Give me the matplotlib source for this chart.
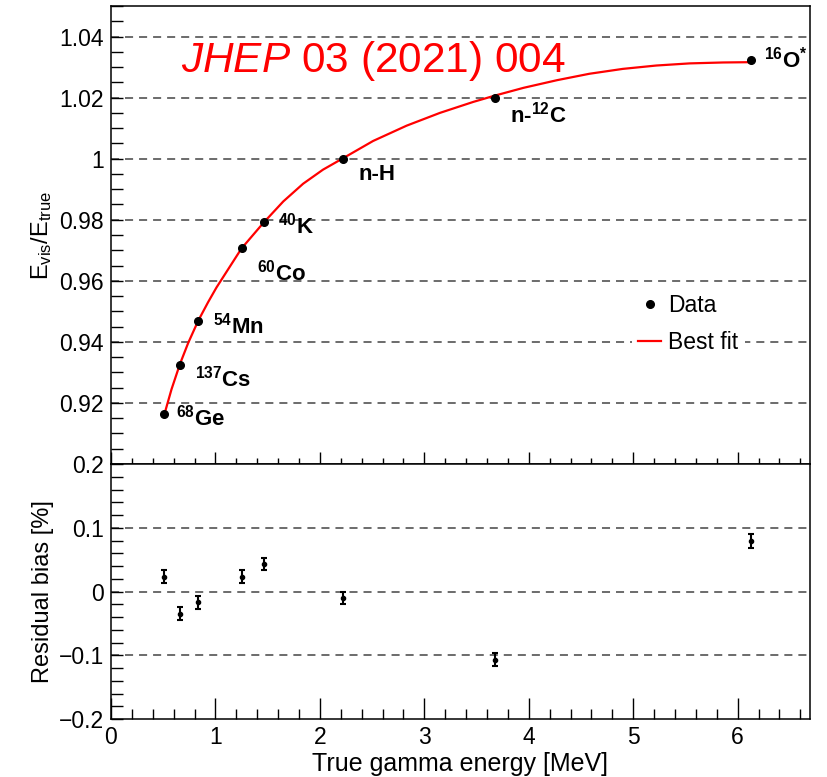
import matplotlib
matplotlib.use('Agg')
import matplotlib.pyplot as plt
from matplotlib.ticker import FixedLocator, MultipleLocator, FuncFormatter

plt.rcParams['font.family'] = ['Liberation Sans', 'DejaVu Sans']
plt.rcParams['mathtext.fontset'] = 'custom'
plt.rcParams['mathtext.rm'] = 'Liberation Sans'
plt.rcParams['mathtext.it'] = 'Liberation Sans:italic'
plt.rcParams['mathtext.bf'] = 'Liberation Sans:bold'
plt.rcParams['lines.scale_dashes'] = False

# 数据点
energy = [0.511, 0.662, 0.835, 1.253, 1.461, 2.223, 3.68, 6.13]
ratio = [0.9163, 0.9324, 0.9467, 0.9708, 0.9794, 1.0000, 1.0199, 1.0323]
labels = [r'$^{\mathbf{68}}$Ge', r'$^{\mathbf{137}}$Cs', r'$^{\mathbf{54}}$Mn',
          r'$^{\mathbf{60}}$Co', r'$^{\mathbf{40}}$K', 'n-H',
          r'n-$^{\mathbf{12}}$C', r'$^{\mathbf{16}}$O$^{\mathbf{*}}$']
# 标签偏移 (points)
label_off = [(8.4, -8), (10.8, -15.3), (10.6, -8.6), (10.8, -23.3),
             (10.3, -8.6), (11.3, -15.1), (10.3, -17.6), (8.9, -5.3)]

# 拟合曲线
fit_x = [0.51, 0.58, 0.66, 0.74, 0.835, 0.93, 1.01, 1.25, 1.46, 1.65, 1.84, 2.03,
         2.22, 2.51, 2.83, 3.15, 3.47, 3.68, 3.95, 4.27, 4.58, 4.90, 5.22, 5.54,
         5.86, 6.13]
fit_y = [0.9161, 0.9245, 0.9327, 0.9397, 0.9469, 0.9530, 0.9578, 0.9706, 0.9790,
         0.9860, 0.9918, 0.9964, 1.0001, 1.0058, 1.0108, 1.0150, 1.0186, 1.0207,
         1.0232, 1.0257, 1.0278, 1.0294, 1.0305, 1.0312, 1.0315, 1.0316]

# 残差
res_y = [0.023, -0.035, -0.017, 0.023, 0.043, -0.010, -0.107, 0.080]
res_err = [0.010, 0.010, 0.010, 0.010, 0.010, 0.010, 0.010, 0.011]

top_ticks = [0.92, 0.94, 0.96, 0.98, 1.00, 1.02, 1.04]
bot_ticks = [-0.2, -0.1, 0.0, 0.1, 0.2]
bot_grid = [-0.1, 0.0, 0.1]


def fmt(v, pos):
    return ('%g' % round(v, 6)).replace('-', '\u2212')


fig = plt.figure(figsize=(8.28, 7.77), dpi=100)
ax1 = fig.add_axes([0.134, 0.4028, 0.844, 0.5895])
ax2 = fig.add_axes([0.134, 0.0746, 0.844, 0.3282])

for y in top_ticks:
    ax1.axhline(y, color='#444444', lw=1.1, dashes=(5.8, 4.3), zorder=1)
for y in bot_grid:
    ax2.axhline(y, color='#444444', lw=1.1, dashes=(5.8, 4.3), zorder=1)

ax1.plot(fit_x, fit_y, color='#ff0000', lw=1.6, zorder=2, label='Best fit')
ax1.plot(energy, ratio, 'o', color='black', ms=5.5, zorder=3, label='Data')
for x, y, t, off in zip(energy, ratio, labels, label_off):
    ax1.annotate(t, (x, y), xytext=off, textcoords='offset points',
                 fontsize=16, fontweight='bold', ha='left', va='baseline')

ax1.text(0.100, 0.8566, r'$\mathit{JHEP}$ 03 (2021) 004', transform=ax1.transAxes,
         color='#ff0000', fontsize=30.5, ha='left', va='baseline')

h, l = ax1.get_legend_handles_labels()
leg = ax1.legend([h[1], h[0]], [l[1], l[0]], loc='center left',
                 bbox_to_anchor=(0.745, 0.3057), fontsize=16.5, frameon=True,
                 handlelength=1.0, handletextpad=0.3, labelspacing=0.65,
                 borderpad=0.3, borderaxespad=0)
leg.get_frame().set_edgecolor('none')
leg.get_frame().set_facecolor('white')
leg.get_frame().set_alpha(1)

ax2.errorbar(energy, res_y, yerr=res_err, fmt='o', color='black', ms=3,
             elinewidth=1.5, capsize=2, capthick=1.5, zorder=3)

ax1.set_xlim(0, 6.69)
ax2.set_xlim(0, 6.69)
ax1.set_ylim(0.90, 1.05)
ax2.set_ylim(-0.2, 0.2)

ax1.yaxis.set_major_locator(FixedLocator(top_ticks))
ax1.yaxis.set_minor_locator(MultipleLocator(0.005))
ax2.yaxis.set_major_locator(FixedLocator(bot_ticks))
ax2.yaxis.set_minor_locator(MultipleLocator(0.02))
for ax in (ax1, ax2):
    ax.xaxis.set_major_locator(MultipleLocator(1))
    ax.xaxis.set_minor_locator(MultipleLocator(0.2))
    ax.yaxis.set_major_formatter(FuncFormatter(fmt))
    ax.xaxis.set_major_formatter(FuncFormatter(fmt))
    ax.tick_params(which='both', direction='in', top=False, right=False,
                   labelsize=16.5, width=1.0, pad=5)
    ax.tick_params(axis='y', which='both', length=8.5)
    for s in ax.spines.values():
        s.set_linewidth(1.1)

ax1.tick_params(axis='x', which='major', length=8.5)
ax1.tick_params(axis='x', which='minor', length=4.3)
ax1.tick_params(axis='x', labelbottom=False)
ax2.tick_params(axis='x', which='major', length=15)
ax2.tick_params(axis='x', which='minor', length=7.5)

ax1.set_ylabel(r'$\mathrm{E_{vis}/E_{true}}$', fontsize=17)
ax2.set_ylabel('Residual bias [%]', fontsize=17)
ax2.set_xlabel('True gamma energy [MeV]', fontsize=18, labelpad=2)
ax1.yaxis.set_label_coords(-0.082, 0.5)
ax2.yaxis.set_label_coords(-0.082, 0.5)

fig.savefig('out.png', dpi=100)
